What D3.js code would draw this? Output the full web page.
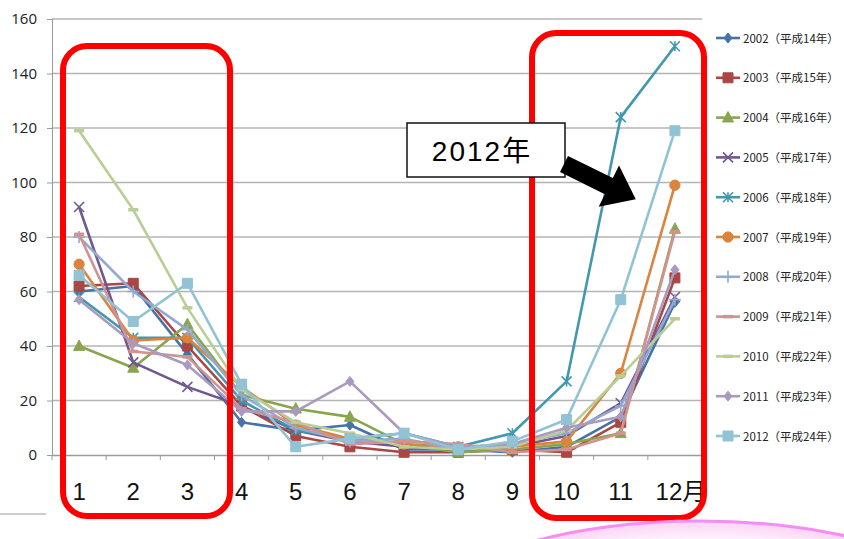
<!DOCTYPE html>
<html><head><meta charset="utf-8">
<script src="https://cdn.jsdelivr.net/npm/d3@7"></script>
<style>body{margin:0;background:#fff;overflow:hidden}</style>
</head><body>
<svg id="c" width="844" height="539"></svg>
<script>
const months = ["1","2","3","4","5","6","7","8","9","10","11","12"];
const monthLabels = ["1","2","3","4","5","6","7","8","9","10","11","12月"];
const yTicks = [0,20,40,60,80,100,120,140,160];
const seriesNames = ["2002（平成14年）","2003（平成15年）","2004（平成16年）","2005（平成17年）","2006（平成18年）","2007（平成19年）","2008（平成20年）","2009（平成21年）","2010（平成22年）","2011（平成23年）","2012（平成24年）"];
const v2002 = [60,62,37,12,9,11,2,2,1,3,14,56];
const v2003 = [62,63,40,18,7,3,1,1,2,1,12,65];
const v2004 = [40,32,48,22,17,14,4,1,2,4,8,83];
const v2005 = [91,34,25,18,9,5,3,2,3,7,19,58];
const v2006 = [58,43,43,20,9,6,8,3,8,27,124,150];
const v2007 = [70,42,43,25,11,6,4,3,3,5,30,99];
const v2008 = [80,60,46,22,10,5,6,2,4,8,18,57];
const v2009 = [81,38,36,17,12,4,5,4,1,2,8,82];
const v2010 = [119,90,54,24,12,8,3,2,3,9,29,50];
const v2011 = [57,41,33,16,16,27,8,3,4,10,14,68];
const v2012 = [66,49,63,26,3,6,8,2,5,13,57,119];
const seriesValues = [v2002,v2003,v2004,v2005,v2006,v2007,v2008,v2009,v2010,v2011,v2012];
const colors = ["#4572A7","#AA4643","#89A54E","#71588F","#4198AF","#DB843D","#93A9CF","#D19392","#B9CD96","#A99BBD","#91C3D5"];
const markers = ["diamond","square","triangle","times","asterisk","circle","plus","dash","dash","diamond","square"];

const svg = d3.select("#c");
const x = d3.scaleBand().domain(months).range([52,702]);
const y = d3.scaleLinear().domain([0,160]).range([455,19]);
const cx = m => x(m) + x.bandwidth()/2;

// gridlines
svg.append("g").selectAll("line").data(yTicks.filter(t=>t>0)).join("line")
  .attr("x1",52).attr("x2",702).attr("y1",d=>y(d)).attr("y2",d=>y(d))
  .attr("stroke","#b4b4b4").attr("stroke-width",1.5);

// y axis
const ya = svg.append("g").attr("transform","translate(52,0)").call(d3.axisLeft(y).tickValues(yTicks).tickSize(5).tickPadding(10));
ya.select(".domain").attr("stroke","#9a9a9a");
ya.selectAll(".tick line").attr("stroke","#9a9a9a");
ya.selectAll("text").attr("font-family","'Open Sans','Noto Sans',sans-serif").attr("font-size",15).attr("fill","#222");

// x axis
const xa = svg.append("g").attr("transform","translate(0,455)").call(d3.axisBottom(x).tickSize(0).tickFormat(""));
xa.select(".domain").attr("stroke","#9a9a9a").attr("stroke-width",1.5);
svg.append("g").selectAll("line").data(d3.range(13)).join("line")
  .attr("x1",i=>52+i*x.step()).attr("x2",i=>52+i*x.step()).attr("y1",455).attr("y2",460)
  .attr("stroke","#9a9a9a");
svg.append("g").selectAll("text").data(months).join("text")
  .attr("x",(d,i)=>cx(d)+(i===11?6:0)).attr("y",500).attr("text-anchor","middle")
  .attr("font-family","'Liberation Sans','Noto Sans CJK JP',sans-serif").attr("font-size",24).attr("fill","#111")
  .text((d,i)=>monthLabels[i]);

function markerPath(type, s){
  switch(type){
    case "diamond": return `M0,${-s}L${s*0.8},0L0,${s}L${-s*0.8},0Z`;
    case "square": return `M${-s},${-s}H${s}V${s}H${-s}Z`;
    case "triangle": return `M0,${-s*1.1}L${s},${s*0.8}L${-s},${s*0.8}Z`;
    case "times": return `M${-s},${-s}L${s},${s}M${-s},${s}L${s},${-s}`;
    case "asterisk": return `M${-s},${-s}L${s},${s}M${-s},${s}L${s},${-s}M0,${-s}V${s}`;
    case "plus": return `M${-s},0H${s}M0,${-s}V${s}`;
    case "dash": return `M${-s},0H${s}`;
    case "circle": return d3.symbol(d3.symbolCircle, s*s*3.3)();
  }
}
function drawMarker(g, type, color, px, py){
  const filled = ["diamond","square","triangle","circle"].includes(type);
  const sz = {diamond:5,square:5,triangle:5.5,circle:5,times:5,asterisk:5,plus:6,dash:5}[type];
  g.append("path").attr("d",markerPath(type,sz)).attr("transform",`translate(${px},${py})`)
    .attr("fill",filled?color:"none").attr("stroke",color)
    .attr("stroke-width",filled?1:(type==="dash"?3.5:1.6));
}

const line = d3.line().x((d,i)=>cx(months[i])).y(d=>y(d));
seriesValues.forEach((vals,k)=>{
  const g = svg.append("g");
  g.append("path").datum(vals).attr("d",line).attr("fill","none")
    .attr("stroke",colors[k]).attr("stroke-width",2.6).attr("stroke-linejoin","round");
  vals.forEach((v,i)=>drawMarker(g,markers[k],colors[k],cx(months[i]),y(v)));
});

// legend
const lg = svg.append("g");
seriesNames.forEach((n,k)=>{
  const ly = 38 + k*39.8;
  lg.append("line").attr("x1",716).attr("x2",740).attr("y1",ly).attr("y2",ly).attr("stroke",colors[k]).attr("stroke-width",2.6);
  drawMarker(lg,markers[k],colors[k],728,ly);
  lg.append("text").attr("x",743).attr("y",ly+4.5).attr("font-family","'Noto Sans CJK JP',sans-serif")
    .attr("font-size",11.5).attr("fill","#222").text(n);
});

// red rounded boxes
svg.append("rect").attr("x",63).attr("y",46).attr("width",167).attr("height",470).attr("rx",24)
  .attr("fill","none").attr("stroke","#ff0000").attr("stroke-width",6);
svg.append("rect").attr("x",532).attr("y",33).attr("width",172).attr("height",485).attr("rx",24)
  .attr("fill","none").attr("stroke","#ff0000").attr("stroke-width",6);

// annotation
svg.append("rect").attr("x",407).attr("y",123).attr("width",158).attr("height",54)
  .attr("fill","#fff").attr("stroke","#111").attr("stroke-width",1.5);
svg.append("text").attr("x",482).attr("y",161).attr("text-anchor","middle")
  .attr("font-family","'Liberation Sans','Noto Sans CJK JP',sans-serif").attr("font-size",28)
  .attr("letter-spacing",2).attr("fill","#000").text("2012年");
const ang = Math.atan2(34,69)*180/Math.PI;
svg.append("path").attr("transform",`translate(564,164) rotate(${ang})`)
  .attr("d","M0,-9 L50,-9 L50,-23 L80,0 L50,23 L50,9 L0,9 Z").attr("fill","#000");

// bottom decorations
svg.append("line").attr("x1",0).attr("x2",46).attr("y1",514).attr("y2",514).attr("stroke","#bbb").attr("stroke-width",1.5);
const defs = svg.append("defs");
const gr = defs.append("radialGradient").attr("id","pg").attr("cx","50%").attr("cy","50%").attr("r","50%");
gr.append("stop").attr("offset","70%").attr("stop-color","#ffffff");
gr.append("stop").attr("offset","100%").attr("stop-color","#fbd3f7");
svg.append("ellipse").attr("cx",700).attr("cy",605).attr("rx",255).attr("ry",84)
  .attr("fill","url(#pg)").attr("stroke","#f48ef0").attr("stroke-width",3);
</script>
</body></html>
